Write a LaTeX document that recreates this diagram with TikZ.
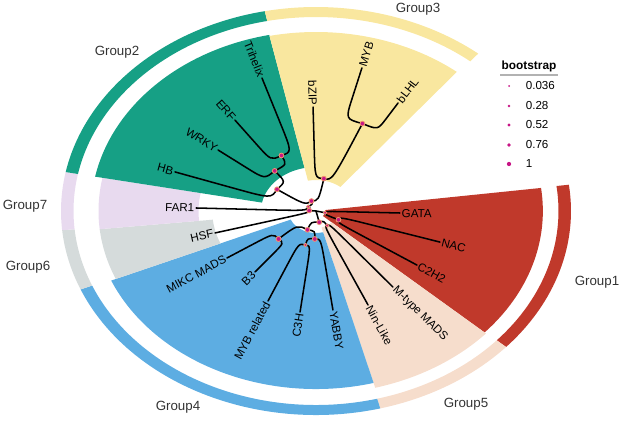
\documentclass[tikz,border=0pt]{standalone}
\usepackage{fontspec}
\setmainfont{Liberation Sans}
\definecolor{gonecol}{HTML}{C0392B}
\definecolor{gtwocol}{HTML}{16A085}
\definecolor{gthreecol}{HTML}{F9E79F}
\definecolor{gfourcol}{HTML}{5DADE2}
\definecolor{gfivecol}{HTML}{F6DDCC}
\definecolor{gsixcol}{HTML}{D5DBDB}
\definecolor{gsevencol}{HTML}{E8DAEF}
\definecolor{bsmag}{HTML}{C71585}
\definecolor{bsring}{RGB}{240,150,110}
\newcommand{\annsec}[5]{\fill[#1] (#2:#4pt) arc[start angle=#2,end angle=#3,radius=#4pt] -- (#3:#5pt) arc[start angle=#3,end angle=#2,radius=#5pt] -- cycle;}
\newcommand{\brtip}[5]{\draw[branch] (#1) .. controls (#2:#3pt) .. (#2:#4pt) -- (#5);}
\newcommand{\brnode}[4]{\draw[branch] (#1) .. controls (#2:#3pt) .. (#4);}
\begin{document}
\begin{tikzpicture}[x=0.75pt,y=0.75pt,
  branch/.style={line width=1.15pt, black, line cap=round, line join=round},
  tiplab/.style={font=\fontsize{8.7}{10}\selectfont, inner sep=1.2pt, text=black},
  tipR/.style={tiplab, anchor=west, rotate={atan2(sin(#1),1.25*cos(#1))}},
  tipL/.style={tiplab, anchor=east, rotate={atan2(sin(#1),1.25*cos(#1))+180}},
  grp/.style={font=\fontsize{10}{12}\selectfont, text=black!80, inner sep=0pt},
  bsdot/.style={circle, fill=bsmag, draw=bsring, line width=0.6pt, inner sep=0pt, minimum size=#1},
  legdot/.style={circle, fill=bsmag, inner sep=0pt, minimum size=#1}]
\path[use as bounding box] (0,0) rectangle (622,-422);

\begin{scope}[shift={(316,-211)}, xscale=0.9375, yscale=0.75]
% clade fans
\annsec{gonecol}{-42}{7.3}{7.5}{181.5}
\annsec{gfivecol}{-75}{-42}{17}{183}
\annsec{gfourcol}{203}{285}{22}{178}
\annsec{gsixcol}{186}{203}{83}{174}
\annsec{gsevencol}{169}{186}{94}{174}
\annsec{gtwocol}{102}{169}{44}{180}
\annsec{gthreecol}{51}{102}{31}{179}
% outer strips
\annsec{gonecol}{-41.8}{7.4}{194}{204}
\annsec{gfivecol}{-75.4}{-41.8}{194}{204}
\annsec{gfourcol}{202.6}{284.6}{194}{204}
\annsec{gsixcol}{185.4}{202.6}{194}{204}
\annsec{gsevencol}{169}{185.4}{194}{204}
\annsec{gtwocol}{101.6}{169}{194}{204}
\annsec{gthreecol}{50.5}{101.6}{194}{204}

% internal nodes
\coordinate (R) at (0:0pt);
\coordinate (nQ) at (175:5.5pt);
\coordinate (nP) at (145:7.5pt);
\coordinate (n23) at (110:10.6pt);
\coordinate (nG2) at (145.2:38pt);
\coordinate (nTEW) at (129.5:52pt);
\coordinate (nTE) at (116.5:62pt);
\coordinate (nG3) at (79:33pt);
\coordinate (nMB) at (67:95pt);
\coordinate (nG1) at (346.6:7.5pt);
\coordinate (nNC) at (334:20pt);
\coordinate (n45) at (283:11.5pt);
\coordinate (nG5) at (301.5:17pt);
\coordinate (nG4) at (250:20pt);
\coordinate (nYMC) at (268:28pt);
\coordinate (nMC) at (256:35pt);
\coordinate (nBM) at (223:41pt);

% tips
\node[tipR=358.3] (GATA) at (358.3:67.2pt) {GATA};
\node[tipR=342.6] (NAC) at (342.6:103.9pt) {NAC};
\node[tipR=326.2] (C2H2) at (326.2:97.2pt) {C2H2};
\node[tipR=309] (Mtype) at (309:97.8pt) {M-type MADS};
\node[tipR=293.9] (Nin) at (293.9:102.8pt) {Nin-Like};
\node[tipR=277.8] (YABBY) at (277.8:99.9pt) {YABBY};
\node[tipL=262.8] (C3H) at (262.8:101.8pt) {C3H};
\node[tipL=246.9] (MYBrel) at (246.9:97.8pt) {MYB related};
\node[tipL=231.3] (B3) at (231.3:78.1pt) {B3};
\node[tipL=213.4] (MIKC) at (213.4:85.3pt) {MIKC MADS};
\node[tipL=195.2] (HSF) at (195.2:83.7pt) {HSF};
\node[tipL=178.2] (FAR1) at (178.2:96pt) {FAR1};
\node[tipL=160.9] (HB) at (160.9:119.4pt) {HB};
\node[tipL=142.1] (WRKY) at (142.1:99.3pt) {WRKY};
\node[tipL=125.5] (ERF) at (125.5:111.7pt) {ERF};
\node[tipL=108] (Trihelix) at (108:139.8pt) {Trihelix};
\node[tipL=91.3] (bZIP) at (91.3:104pt) {bZIP};
\node[tipR=75.6] (MYB) at (75.6:147.7pt) {MYB};
\node[tipR=58.7] (bLHL) at (58.7:126.4pt) {bLHL};

% branches
\draw[branch] (R) -- (nQ);
\draw[branch] (R) -- (nG1);
\draw[branch] (R) -- (n45);
\brtip{nQ}{195.2}{5.5}{36.8}{HSF.east}
\brnode{nQ}{145}{5.5}{nP}
\brtip{nP}{178.2}{7.5}{42.9}{FAR1.east}
\brnode{nP}{110}{7.5}{n23}
\brnode{n23}{145.2}{10.6}{nG2}
\brnode{n23}{79}{10.6}{nG3}
\brnode{nG2}{129.5}{38}{nTEW}
\brtip{nG2}{160.9}{38}{70.6}{HB.east}
\brnode{nTEW}{116.5}{52}{nTE}
\brtip{nTEW}{142.1}{52}{70.9}{WRKY.east}
\brtip{nTE}{108}{62}{93.1}{Trihelix.east}
\brtip{nTE}{125.5}{62}{81.9}{ERF.east}
\brtip{nG3}{91.3}{33}{61.4}{bZIP.east}
\brnode{nG3}{67}{33}{nMB}
\brtip{nMB}{75.6}{95}{116.1}{MYB.west}
\brtip{nMB}{58.7}{95}{107.6}{bLHL.west}
\brtip{nG1}{358.3}{7.5}{31.4}{GATA.west}
\brnode{nG1}{334}{7.5}{nNC}
\brtip{nNC}{342.6}{20}{53.6}{NAC.west}
\brtip{nNC}{326.2}{20}{50.9}{C2H2.west}
\brnode{n45}{301.5}{11.5}{nG5}
\brnode{n45}{250}{11.5}{nG4}
\brtip{nG5}{309}{17}{49.3}{Mtype.west}
\brtip{nG5}{293.9}{17}{51.3}{Nin.west}
\brnode{nG4}{268}{20}{nYMC}
\brnode{nG4}{223}{20}{nBM}
\brtip{nYMC}{277.8}{28}{56.8}{YABBY.west}
\brnode{nYMC}{256}{28}{nMC}
\brtip{nMC}{262.8}{35}{61.7}{C3H.east}
\brtip{nMC}{246.9}{35}{60.1}{MYBrel.east}
\brtip{nBM}{231.3}{41}{55.8}{B3.east}
\brtip{nBM}{213.4}{41}{58.7}{MIKC.east}

% bootstrap points
\node[bsdot=3.6pt] (dQ) at (nQ) {};
\node[bsdot=2.6pt] (dP) at (nP) {};
\node[bsdot=3.6pt] (d23) at (n23) {};
\node[bsdot=3.6pt] (dG2) at (nG2) {};
\node[bsdot=3.6pt] (dTEW) at (nTEW) {};
\node[bsdot=3.6pt] (dTE) at (nTE) {};
\node[bsdot=3.6pt] (dG3) at (nG3) {};
\node[bsdot=3.6pt] (dMB) at (nMB) {};
\node[bsdot=2.6pt] (dG1) at (nG1) {};
\node[bsdot=3.6pt] (dNC) at (nNC) {};
\node[bsdot=3.6pt] (d45) at (n45) {};
\node[bsdot=2.6pt] (dG5) at (nG5) {};
\node[bsdot=3.6pt] (dG4) at (nG4) {};
\node[bsdot=3.6pt] (dYMC) at (nYMC) {};
\node[bsdot=2.6pt] (dMC) at (nMC) {};
\node[bsdot=3.8pt] (dBM) at (nBM) {};
\end{scope}

% group labels
\node[grp] (lab1) at (597,-282) {Group1};
\node[grp] (lab2) at (117,-52) {Group2};
\node[grp] (lab3) at (418,-9) {Group3};
\node[grp] (lab4) at (178,-407) {Group4};
\node[grp] (lab5) at (466,-404) {Group5};
\node[grp] (lab6) at (28,-267) {Group6};
\node[grp] (lab7) at (25,-206) {Group7};

% legend
\node[font=\bfseries\fontsize{8.9}{10}\selectfont, inner sep=0pt] (legtitle) at (529,-66) {bootstrap};
\coordinate (ruleL) at (500,-75);
\coordinate (ruleR) at (558,-75);
\draw[black!30, line width=1.1pt] (ruleL) -- (ruleR);
\node[legdot=1.5pt] (ld1) at (509,-86) {};
\node[legdot=2.0pt] (ld2) at (509,-106) {};
\node[legdot=2.4pt] (ld3) at (509,-125) {};
\node[legdot=2.8pt] (ld4) at (509,-145) {};
\node[legdot=3.2pt] (ld5) at (509,-164) {};
\node[tiplab, anchor=west] (lt1) at (524,-86) {0.036};
\node[tiplab, anchor=west] (lt2) at (524,-106) {0.28};
\node[tiplab, anchor=west] (lt3) at (524,-125) {0.52};
\node[tiplab, anchor=west] (lt4) at (524,-145) {0.76};
\node[tiplab, anchor=west] (lt5) at (524,-164) {1};
\end{tikzpicture}
\end{document}
